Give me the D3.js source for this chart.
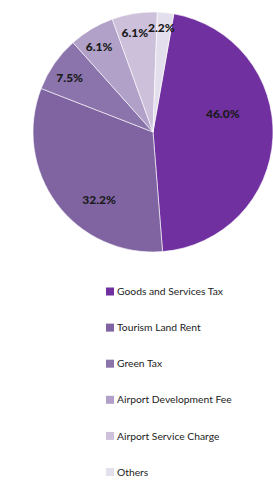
<!DOCTYPE html>
<html><head><meta charset="utf-8">
<script src="https://cdn.jsdelivr.net/npm/d3@7"></script>
<style>body{margin:0;background:#fff}svg{display:block}</style>
</head><body>
<svg id="chart" width="273" height="485"></svg>
<script>
const categories = ["Goods and Services Tax","Tourism Land Rent","Green Tax","Airport Development Fee","Airport Service Charge","Others"];
const values = [46.0, 32.2, 7.5, 6.1, 6.1, 2.2];
const colors = ["#7030a0","#8064a2","#8b73ac","#b1a0c7","#ccc0da","#e4dfec"];

const svg = d3.select("#chart");
const cx = 153, cy = 132, R = 120;
const start = 10 * Math.PI / 180;

const pie = d3.pie().sort(null).value(d => d).startAngle(start).endAngle(start + 2 * Math.PI);
const arcs = pie(values);
const arc = d3.arc().innerRadius(0).outerRadius(R);

const g = svg.append("g").attr("transform", `translate(${cx},${cy})`);
g.selectAll("path").data(arcs).join("path")
  .attr("d", arc)
  .attr("fill", (d, i) => colors[i])
  .attr("stroke", "#ffffff")
  .attr("stroke-width", 0.6);

// label placement rules (best-fit style)
const labelFrac = d3.scaleLinear().domain([2.2, 7.5, 32.2, 46]).range([0.87, 0.83, 0.725, 0.6]).clamp(true);
const labelShift = d3.scaleLinear().domain([7.5, 32.2, 46]).range([1.5, 15, 17]).clamp(true);
g.selectAll("text").data(arcs).join("text")
  .attr("transform", d => {
    const a = (d.startAngle + d.endAngle) / 2 - labelShift(d.value) * Math.PI / 180;
    const r = R * labelFrac(d.value);
    return `translate(${r * Math.sin(a)},${-r * Math.cos(a)})`;
  })
  .attr("text-anchor", "middle")
  .attr("dy", "0.35em")
  .style("font-family", "Lato, 'Open Sans', sans-serif")
  .style("font-weight", "900")
  .style("font-size", "12px")
  .attr("fill", "#1a1a1a")
  .text(d => d.value.toFixed(1) + "%");

const ly = d3.scalePoint().domain(categories).range([291.5, 472]);
const leg = svg.append("g").selectAll("g").data(categories).join("g")
  .attr("transform", d => `translate(106,${ly(d)})`);
leg.append("rect").attr("x", 0).attr("y", -4).attr("width", 8).attr("height", 8)
  .attr("fill", (d, i) => colors[i]);
leg.append("text").attr("x", 11).attr("dy", "0.35em")
  .style("font-family", "Lato, 'Open Sans', sans-serif")
  .style("font-size", "10.3px")
  .attr("fill", "#222")
  .text(d => d);
</script>
</body></html>
